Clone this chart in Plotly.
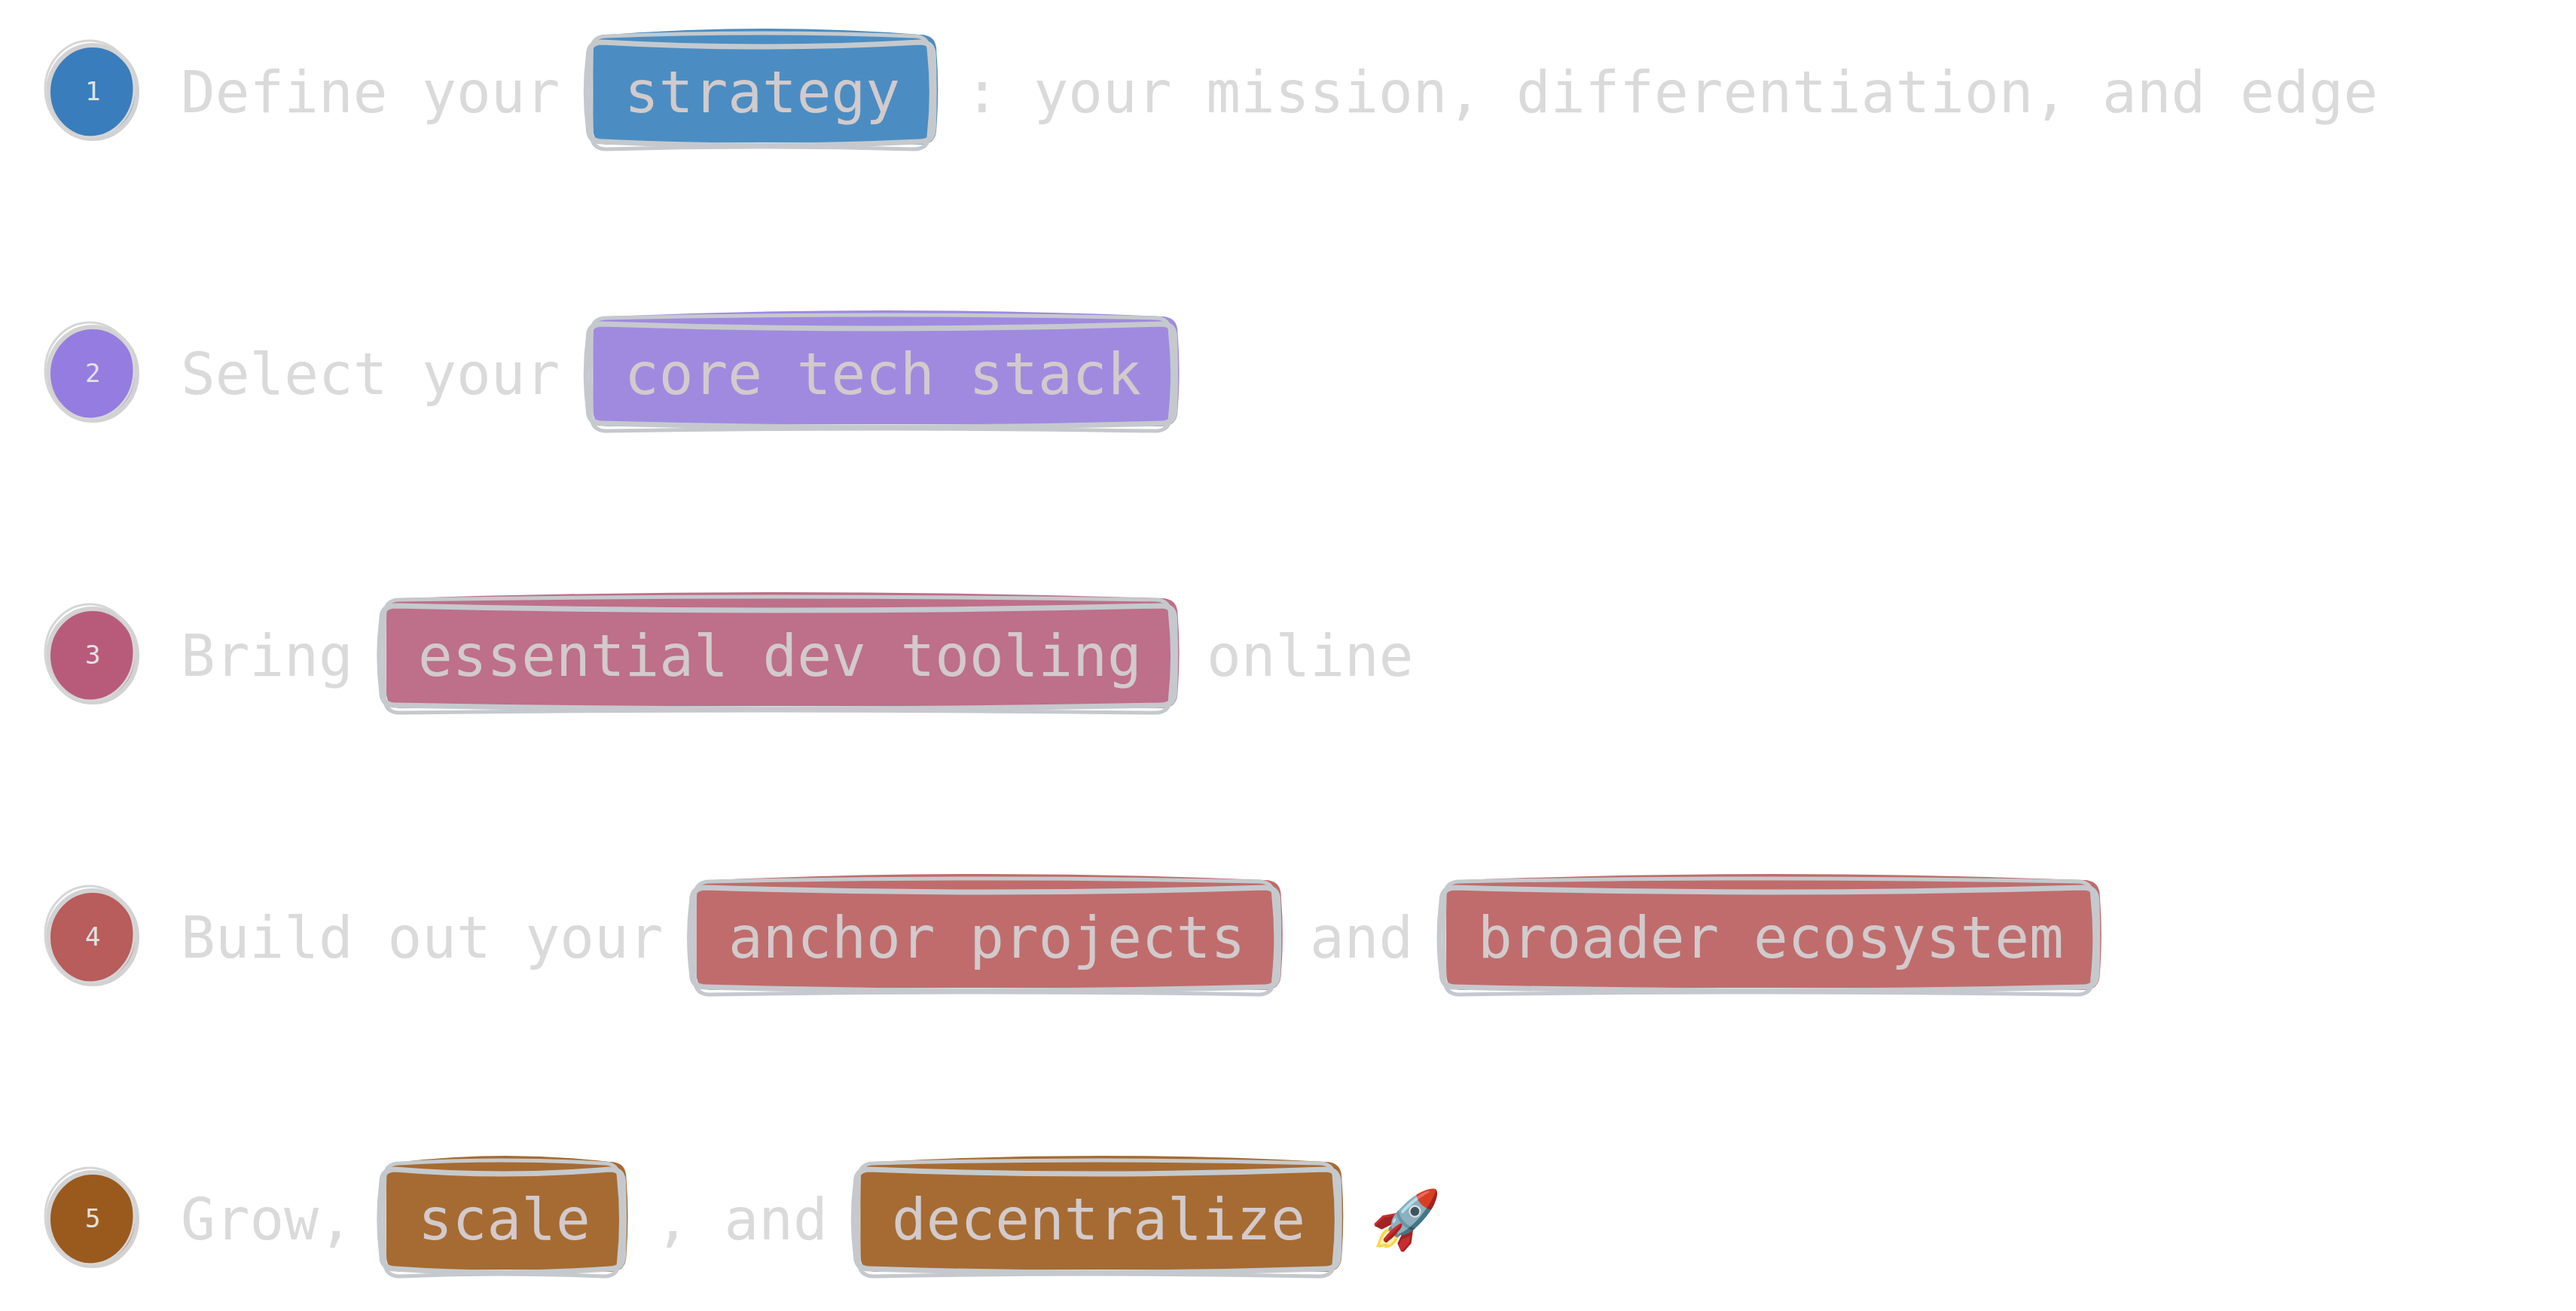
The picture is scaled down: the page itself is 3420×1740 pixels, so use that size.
import plotly.graph_objects as go

# roadmap content
step_labels = ["1", "2", "3", "4", "5"]
row_texts = [
    ["Define your", "strategy", ": your mission, differentiation, and edge"],
    ["Select your", "core tech stack"],
    ["Bring", "essential dev tooling", "online"],
    ["Build out your", "anchor projects", "and", "broader ecosystem"],
    ["Grow,", "scale", ", and", "decentralize", "🚀"],
]
row_boxed = [
    [False, True, False],
    [False, True],
    [False, True, False],
    [False, True, False, True],
    [False, True, False, True, False],
]
box_colors = ["#4b8dc2", "#a08ae0", "#be6f89", "#c06c6c", "#a66b32"]
dot_colors = ["#3a7dbc", "#957ce0", "#b85b7b", "#b85c5c", "#9a5a1e"]

W, H = 3420, 1740
FONT = "DejaVu Sans Mono"
FS = 76
CW = FS * 0.602          # monospace advance
ROW_Y0, ROW_STEP = 112, 374
DOT_X, DOT_R = 114, 62
TEXT_X0 = 230
GAP, PAD, HALF_H = 40, 46, 70
TEXT_COLOR = "#dadada"
BOX_TEXT = "#d2cacc"
OUTLINE = "#c5c9cd"


def rough_rect(x0, y0, x1, y1, r, bt, bb, bl, br):
    xm = (x0 + x1) / 2
    ym = (y0 + y1) / 2
    return (f"M {x0 + r},{y0} Q {xm},{y0 - bt} {x1 - r},{y0} "
            f"Q {x1},{y0} {x1},{y0 + r} Q {x1 + br},{ym} {x1},{y1 - r} "
            f"Q {x1},{y1} {x1 - r},{y1} Q {xm},{y1 + bb} {x0 + r},{y1} "
            f"Q {x0},{y1} {x0},{y1 - r} Q {x0 - bl},{ym} {x0},{y0 + r} "
            f"Q {x0},{y0} {x0 + r},{y0} Z")


fig = go.Figure()
shapes = []
annotations = []

for i, (texts, boxed) in enumerate(zip(row_texts, row_boxed)):
    yc = ROW_Y0 + i * ROW_STEP

    # numbered dot, drawn twice for the sketchy rim
    shapes.append(dict(type="circle", xref="x", yref="y",
                       x0=DOT_X - DOT_R + 4, x1=DOT_X + DOT_R - 2,
                       y0=yc - DOT_R + 2, y1=yc + DOT_R + 2,
                       fillcolor=dot_colors[i], line=dict(color="#d2d2d2", width=6)))
    shapes.append(dict(type="circle", xref="x", yref="y",
                       x0=DOT_X - DOT_R, x1=DOT_X + DOT_R - 6,
                       y0=yc - DOT_R - 4, y1=yc + DOT_R,
                       fillcolor="rgba(0,0,0,0)", line=dict(color="#d6d6d6", width=3)))
    annotations.append(dict(x=DOT_X + 1, y=yc + 1, text=step_labels[i], showarrow=False,
                            xanchor="center", yanchor="middle",
                            font=dict(family=FONT, size=34, color="#e2e2e2")))

    cursor = TEXT_X0
    for j, (txt, is_box) in enumerate(zip(texts, boxed)):
        if j > 0:
            cursor += GAP
        tw = len(txt) * CW
        if is_box:
            bx0, bx1 = cursor, cursor + tw + 2 * PAD
            by0, by1 = yc - HALF_H, yc + HALF_H
            shapes.append(dict(type="path", xref="x", yref="y",
                               path=rough_rect(bx0 + 6, by0 - 4, bx1 + 4, by1 + 2, 22, 16, -6, 0, 4),
                               fillcolor=box_colors[i], line=dict(width=0)))
            shapes.append(dict(type="path", xref="x", yref="y",
                               path=rough_rect(bx0, by0 + 6, bx1, by1 - 2, 18, -12, 10, 6, 2),
                               fillcolor="rgba(0,0,0,0)", line=dict(color=OUTLINE, width=7)))
            shapes.append(dict(type="path", xref="x", yref="y",
                               path=rough_rect(bx0 + 4, by0 - 2, bx1 - 6, by1 + 8, 20, 8, -6, 2, 6),
                               fillcolor="rgba(0,0,0,0)", line=dict(color=OUTLINE, width=5)))
            annotations.append(dict(x=cursor + PAD, y=yc + 2, text=txt, showarrow=False,
                                    xanchor="left", yanchor="middle",
                                    font=dict(family=FONT, size=FS, color=BOX_TEXT)))
            cursor = bx1
        else:
            annotations.append(dict(x=cursor, y=yc + 2, text=txt, showarrow=False,
                                    xanchor="left", yanchor="middle",
                                    font=dict(family=FONT, size=FS, color=TEXT_COLOR)))
            cursor += tw

fig.update_layout(
    width=W, height=H,
    margin=dict(l=0, r=0, t=0, b=0),
    paper_bgcolor="white", plot_bgcolor="white",
    shapes=shapes, annotations=annotations,
    showlegend=False,
    xaxis=dict(range=[0, W], visible=False, fixedrange=True),
    yaxis=dict(range=[H, 0], visible=False, fixedrange=True),
)

fig.write_html("out.html")
